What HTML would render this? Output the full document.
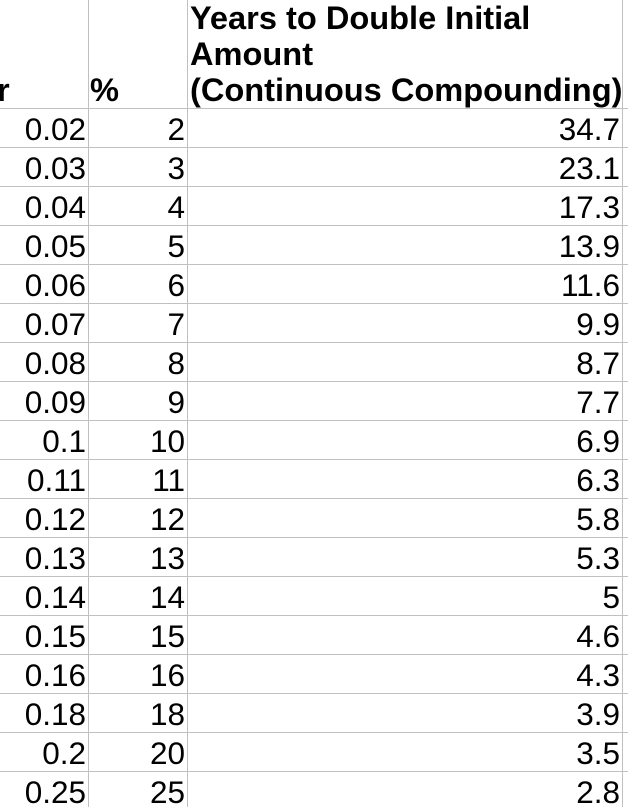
<!DOCTYPE html>
<html><head><meta charset="utf-8">
<style>
html,body{margin:0;padding:0;background:#fff;}
#sheet{position:relative;width:628px;height:807px;overflow:hidden;font-family:"Liberation Sans",sans-serif;color:#000;}
.vl{position:absolute;top:0;width:1px;height:807px;background:#c0c0c0;}
.hl{position:absolute;left:0;height:1px;width:628px;background:#c0c0c0;}
.cell{position:absolute;font-size:31.5px;line-height:30px;text-align:right;white-space:nowrap;}
.hdr{position:absolute;font-size:32.6px;font-weight:bold;line-height:36px;white-space:nowrap;}
</style></head><body>
<div id="sheet">
  <div class="vl" style="left:88px"></div>
  <div class="vl" style="left:187px"></div>
  <div class="vl" style="left:622px"></div>
  <div class="hl" style="top:108px"></div>
  <div class="hdr" style="left:-3px;top:72px">r</div>
  <div class="hdr" style="left:90px;top:72px">%</div>
  <div class="hdr" style="left:190px;top:0px">Years to Double Initial<br>Amount<br>(Continuous Compounding)</div>
</div>
<script>
const rates = ["0.02","0.03","0.04","0.05","0.06","0.07","0.08","0.09","0.1","0.11","0.12","0.13","0.14","0.15","0.16","0.18","0.2","0.25"];
const percents = ["2","3","4","5","6","7","8","9","10","11","12","13","14","15","16","18","20","25"];
const years = ["34.7","23.1","17.3","13.9","11.6","9.9","8.7","7.7","6.9","6.3","5.8","5.3","5","4.6","4.3","3.9","3.5","2.8"];
const sheet = document.getElementById('sheet');
const rowTop = 108, rowH = 39;
for (let i = 0; i < rates.length; i++) {
  const top = rowTop + i * rowH;
  const line = document.createElement('div');
  line.className = 'hl';
  line.style.top = (top + rowH) + 'px';
  
  
  sheet.appendChild(line);
  const cols = [[rates[i], 0, 86], [percents[i], 89, 185], [years[i], 188, 620]];
  const names = ['rate-cell', 'percent-cell', 'years-cell'];
  cols.forEach((c, j) => {
    const d = document.createElement('div');
    d.className = 'cell';
    d.textContent = c[0];
    d.style.left = c[1] + 'px';
    d.style.width = (c[2] - c[1]) + 'px';
    d.style.top = (top + 5.5) + 'px';
    
    
    sheet.appendChild(d);
  });
}
</script>
</body></html>
